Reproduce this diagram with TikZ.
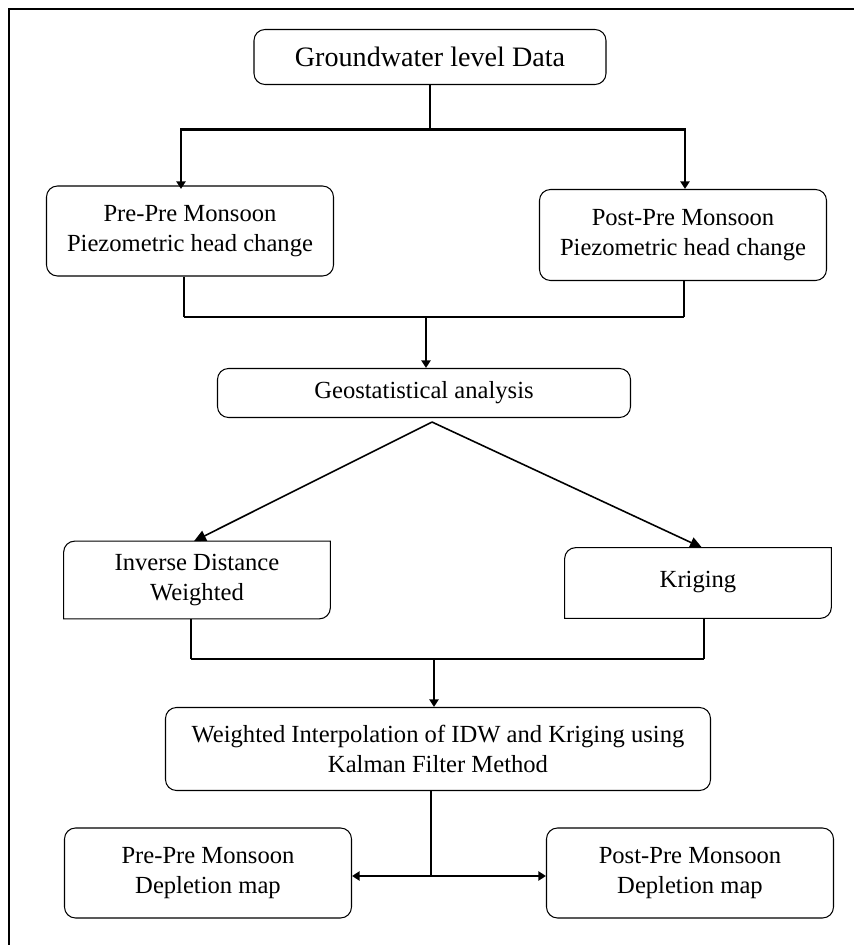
\documentclass[tikz,border=0pt]{standalone}
\usepackage{fontspec}
\setmainfont{Liberation Serif}
\usetikzlibrary{arrows.meta}

\begin{document}
\begin{tikzpicture}[
  box/.style={rectangle, draw, line width=0.6pt, rounded corners=2.2mm, align=center, inner sep=0pt, font=\fontsize{14}{17}\selectfont},
  halfbox/.style={rectangle, align=center, inner sep=0pt, font=\fontsize{14}{17}\selectfont},
  link/.style={line width=0.9pt},
  bus/.style={line width=1.7pt},
  arrow/.style={-{Triangle[length=1.5mm, width=1.8mm]}, line width=1.7pt},
  slant/.style={-{Triangle[length=2.4mm, width=2.2mm]}, line width=0.9pt},
]
\useasboundingbox (0,0) rectangle (17.08,18.9);

% === Frame ===
\draw[line width=0.85pt] (0.18,0) -- (0.18,18.72) -- (17.08,18.72);

% === Input data ===
\node[box, font=\fontsize{16}{19}\selectfont, minimum width=7.04cm, minimum height=1.1cm] (gwl) at (8.6, 17.76) {Groundwater level Data};

\node[box, minimum width=5.74cm, minimum height=1.8cm] (ppiezo) at (3.8, 14.28) {Pre-Pre Monsoon\\Piezometric head change};
\node[box, minimum width=5.74cm, minimum height=1.82cm] (postpiezo) at (13.66, 14.2) {Post-Pre Monsoon\\Piezometric head change};

\coordinate (split) at (8.6, 16.3);
\draw[link] (gwl.south) -- (split);
\draw[arrow] (split) -| ([xshift=-0.18cm]postpiezo.north -| ppiezo.north);
\draw[arrow] (split) -| ([xshift=0.04cm]postpiezo.north);

% === Geostatistics ===
\node[box, minimum width=8.26cm, minimum height=0.98cm] (geo) at (8.48, 11.04) {Geostatistical analysis};

\coordinate (merge) at (8.52, 12.56);
\draw[link] ([xshift=-0.12cm]ppiezo.south) -- ([xshift=-0.12cm]ppiezo.south |- merge);
\draw[link] ([xshift=0.02cm]postpiezo.south) -- ([xshift=0.02cm]postpiezo.south |- merge);
\draw[bus] ([xshift=-0.12cm]ppiezo.south |- merge) -- ([xshift=0.02cm]postpiezo.south |- merge);
\draw[arrow] (merge) -- (merge |- geo.north);

% === Interpolation methods ===
\node[halfbox, minimum width=5.32cm, minimum height=1.54cm] (idw) at (3.94, 7.3) {Inverse Distance\\Weighted};
\node[halfbox, minimum width=5.32cm, minimum height=1.4cm] (krig) at (13.96, 7.24) {\raisebox{0.14cm}{Kriging}};

\foreach \n in {idw, krig}
  \draw[line width=0.6pt] (\n.south west) -- ([yshift=-2.2mm]\n.north west)
    arc[start angle=180, end angle=90, radius=2.2mm] -- (\n.north east)
    -- ([yshift=2.2mm]\n.south east) arc[start angle=0, end angle=-90, radius=2.2mm] -- cycle;

\draw[slant] ([xshift=0.16cm, yshift=-0.08cm]geo.south) -- ([xshift=-0.06cm]idw.north);
\draw[slant] ([xshift=0.16cm, yshift=-0.08cm]geo.south) -- ([xshift=0.08cm]krig.north);

% === Kalman filter ===
\node[box, minimum width=10.9cm, minimum height=1.66cm] (wint) at (8.76, 3.92) {Weighted Interpolation of IDW and Kriging using\\Kalman Filter Method};

\coordinate (merge2) at (8.68, 5.72);
\draw[link] ([xshift=-0.12cm]idw.south) -- ([xshift=-0.12cm]idw.south |- merge2);
\draw[link] ([xshift=0.12cm]krig.south) -- ([xshift=0.12cm]krig.south |- merge2);
\draw[bus] ([xshift=-0.12cm]idw.south |- merge2) -- ([xshift=0.12cm]krig.south |- merge2);
\draw[arrow] (merge2) -- (merge2 |- wint.north);

% === Depletion maps ===
\node[box, minimum width=5.74cm, minimum height=1.8cm] (ppdep) at (4.16, 1.44) {Pre-Pre Monsoon\\Depletion map};
\node[box, minimum width=5.74cm, minimum height=1.8cm] (postdep) at (13.8, 1.44) {Post-Pre Monsoon\\Depletion map};

\coordinate (split2) at (8.62, 1.38);
\draw[link] (wint.south -| split2) -- (split2);
\draw[arrow] (split2) -- (ppdep.east |- split2);
\draw[arrow] (split2) -- (postdep.west |- split2);

\end{tikzpicture}
\end{document}
